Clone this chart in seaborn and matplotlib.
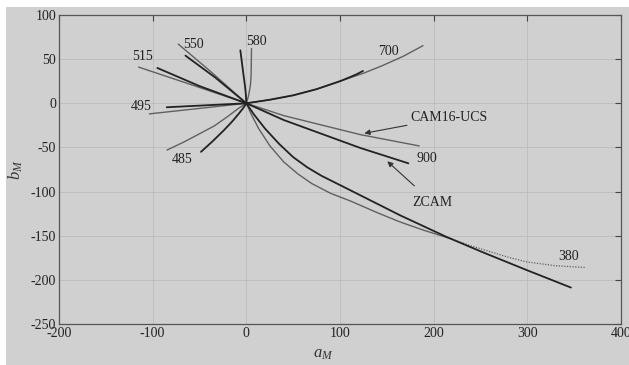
import numpy as np
import pandas as pd
import matplotlib
matplotlib.use("Agg")
import matplotlib.pyplot as plt
import seaborn as sns
from matplotlib.patches import Rectangle

# ---------------- data (a_M, b_M) ----------------
# ZCAM curves (dark)
zcam_380_a = [0, 8, 20, 35, 50, 65, 80, 111, 164, 214, 253, 299.5, 346.5]
zcam_380_b = [0, -12.5, -28.7, -46, -61, -72.5, -82, -98.5, -126.8, -151.5, -169, -189, -208.7]
zcam_485_a = [0, -3, -8, -15, -24, -36, -48.4]
zcam_485_b = [0, -5, -11.7, -20.5, -30.6, -43, -55]
zcam_495_a = [0, -85]
zcam_495_b = [0, -4.5]
zcam_515_a = [0, -50, -95]
zcam_515_b = [0, 19.5, 40]
zcam_550_a = [0, -33, -65]
zcam_550_b = [0, 29, 54]
zcam_580_a = [0, -0.5, -1.5, -3, -4.7, -6.4]
zcam_580_b = [0, 10, 20, 32, 46, 60]
zcam_700_a = [0, 25, 50, 75, 100, 111, 118, 124.5]
zcam_700_b = [0, 4, 9, 16, 25, 29.8, 33, 36.6]
zcam_900_a = [0, 40, 121.7, 173]
zcam_900_b = [0, -19, -50.6, -68]

# CAM16-UCS curves (grey)
cam16_380_a = [0, 5, 13.2, 25, 39.9, 55, 70, 90, 111, 140, 164, 190, 220]
cam16_380_b = [0, -12, -28.7, -48, -66.4, -80, -91, -102, -110.6, -124, -134.4, -144, -154]
cam16_380_dot_a = [220, 240, 260, 280, 299.5, 330, 361.8]
cam16_380_dot_b = [-154, -161.5, -168, -174.5, -179.7, -184, -186]
cam16_485_a = [0, -8, -20.6, -34, -49, -66, -84.7]
cam16_485_b = [0, -5.5, -15.5, -25.5, -34, -43.5, -53]
cam16_495_a = [0, -103.5]
cam16_495_b = [0, -12]
cam16_515_a = [0, -60, -115]
cam16_515_b = [0, 21.5, 41]
cam16_550_a = [0, -37, -72.6]
cam16_550_b = [0, 35, 67]
cam16_580_a = [0, 2, 3.5, 4.5, 5, 5.3, 5.5]
cam16_580_b = [0, 7, 15, 22, 30, 45, 62]
cam16_700_a = [0, 25, 50, 75, 100, 125, 146, 168, 188.6]
cam16_700_b = [0, 4, 9, 16, 25, 34, 43, 53.5, 65.3]
cam16_900_a = [0, 40, 121.7, 184.6]
cam16_900_b = [0, -14, -35.5, -48.3]

wl_labels = ["550", "580", "515", "495", "485", "700", "900", "380"]
wl_label_a = [-57, 10.7, -111, -112, -69, 152, 192.5, 343.6]
wl_label_b = [67, 69.5, 52.5, -3.4, -64, 59, -63, -174]

x_ticks = [-200, -100, 0, 100, 200, 300, 400]
y_ticks = [100, 50, 0, -50, -100, -150, -200, -250]

# ---------------- styling ----------------
BG = "#d0d0d0"
sns.set_style("white")
plt.rcParams["font.family"] = ["Liberation Serif", "DejaVu Serif"]
plt.rcParams["mathtext.fontset"] = "custom"
plt.rcParams["mathtext.it"] = "Liberation Serif:italic"
plt.rcParams["mathtext.rm"] = "Liberation Serif"

fig = plt.figure(figsize=(6.29, 3.65), dpi=100, facecolor="white")
fig.patches.append(Rectangle((6 / 629, 0), 1, 1 - 7 / 365, transform=fig.transFigure,
                             facecolor=BG, edgecolor="none", zorder=-10))
ax = fig.add_axes([59 / 629, 1 - 324 / 365, (621 - 59) / 629, (324 - 15) / 365])
ax.set_facecolor(BG)

DARK = "#222222"
GREY = "#606060"

dark_curves = [(zcam_380_a, zcam_380_b), (zcam_485_a, zcam_485_b), (zcam_495_a, zcam_495_b),
               (zcam_515_a, zcam_515_b), (zcam_550_a, zcam_550_b), (zcam_580_a, zcam_580_b),
               (zcam_700_a, zcam_700_b), (zcam_900_a, zcam_900_b)]
grey_curves = [(cam16_380_a, cam16_380_b), (cam16_485_a, cam16_485_b), (cam16_495_a, cam16_495_b),
               (cam16_515_a, cam16_515_b), (cam16_550_a, cam16_550_b), (cam16_580_a, cam16_580_b),
               (cam16_700_a, cam16_700_b), (cam16_900_a, cam16_900_b)]

for a, b in grey_curves:
    df = pd.DataFrame({"a": a, "b": b})
    sns.lineplot(data=df, x="a", y="b", sort=False, estimator=None, color=GREY, lw=1.0, ax=ax,
                 solid_joinstyle="round", solid_capstyle="round")
df = pd.DataFrame({"a": cam16_380_dot_a, "b": cam16_380_dot_b})
sns.lineplot(data=df, x="a", y="b", sort=False, estimator=None, color=GREY, lw=0.9,
             linestyle=(0, (1, 1.2)), ax=ax)
for a, b in dark_curves:
    df = pd.DataFrame({"a": a, "b": b})
    sns.lineplot(data=df, x="a", y="b", sort=False, estimator=None, color=DARK, lw=1.3, ax=ax,
                 solid_joinstyle="round", solid_capstyle="round")

for t, xa, yb in zip(wl_labels, wl_label_a, wl_label_b):
    ax.text(xa, yb, t, ha="center", va="center", fontsize=10, color="#222222")

ax.annotate("CAM16-UCS", xy=(126, -34), xytext=(175, -16), fontsize=10, color="#222222",
            ha="left", va="center",
            arrowprops=dict(arrowstyle="-|>", color="#333333", lw=0.8, mutation_scale=8,
                            shrinkA=0, shrinkB=0))
ax.annotate("ZCAM", xy=(150.5, -65.7), xytext=(198.5, -112), fontsize=10, color="#222222",
            ha="center", va="center",
            arrowprops=dict(arrowstyle="-|>", color="#333333", lw=0.8, mutation_scale=8,
                            shrinkA=7, shrinkB=0))

ax.set_xlim(-200, 400)
ax.set_ylim(-250, 100)
ax.set_xticks(x_ticks)
ax.set_yticks(y_ticks)
ax.set_xticklabels([str(v) for v in x_ticks])
ax.set_yticklabels([str(v) for v in y_ticks])
ax.grid(True, color="#bcbcbc", lw=0.6)
ax.set_axisbelow(True)
ax.tick_params(direction="in", length=4, width=0.8, color="#444444", labelsize=10,
               labelcolor="#222222", top=True, right=True, pad=2)
for s in ax.spines.values():
    s.set_visible(True)
    s.set_color("#555555")
    s.set_linewidth(0.9)

ax.set_xlabel("$a_M$", fontsize=12, color="#333333", labelpad=2)
ax.xaxis.set_label_coords((323 - 59) / (621 - 59), -0.07)
ax.set_ylabel("$b_M$", fontsize=12, color="#333333", labelpad=4)

fig.savefig("out.png", dpi=100, facecolor="white")
